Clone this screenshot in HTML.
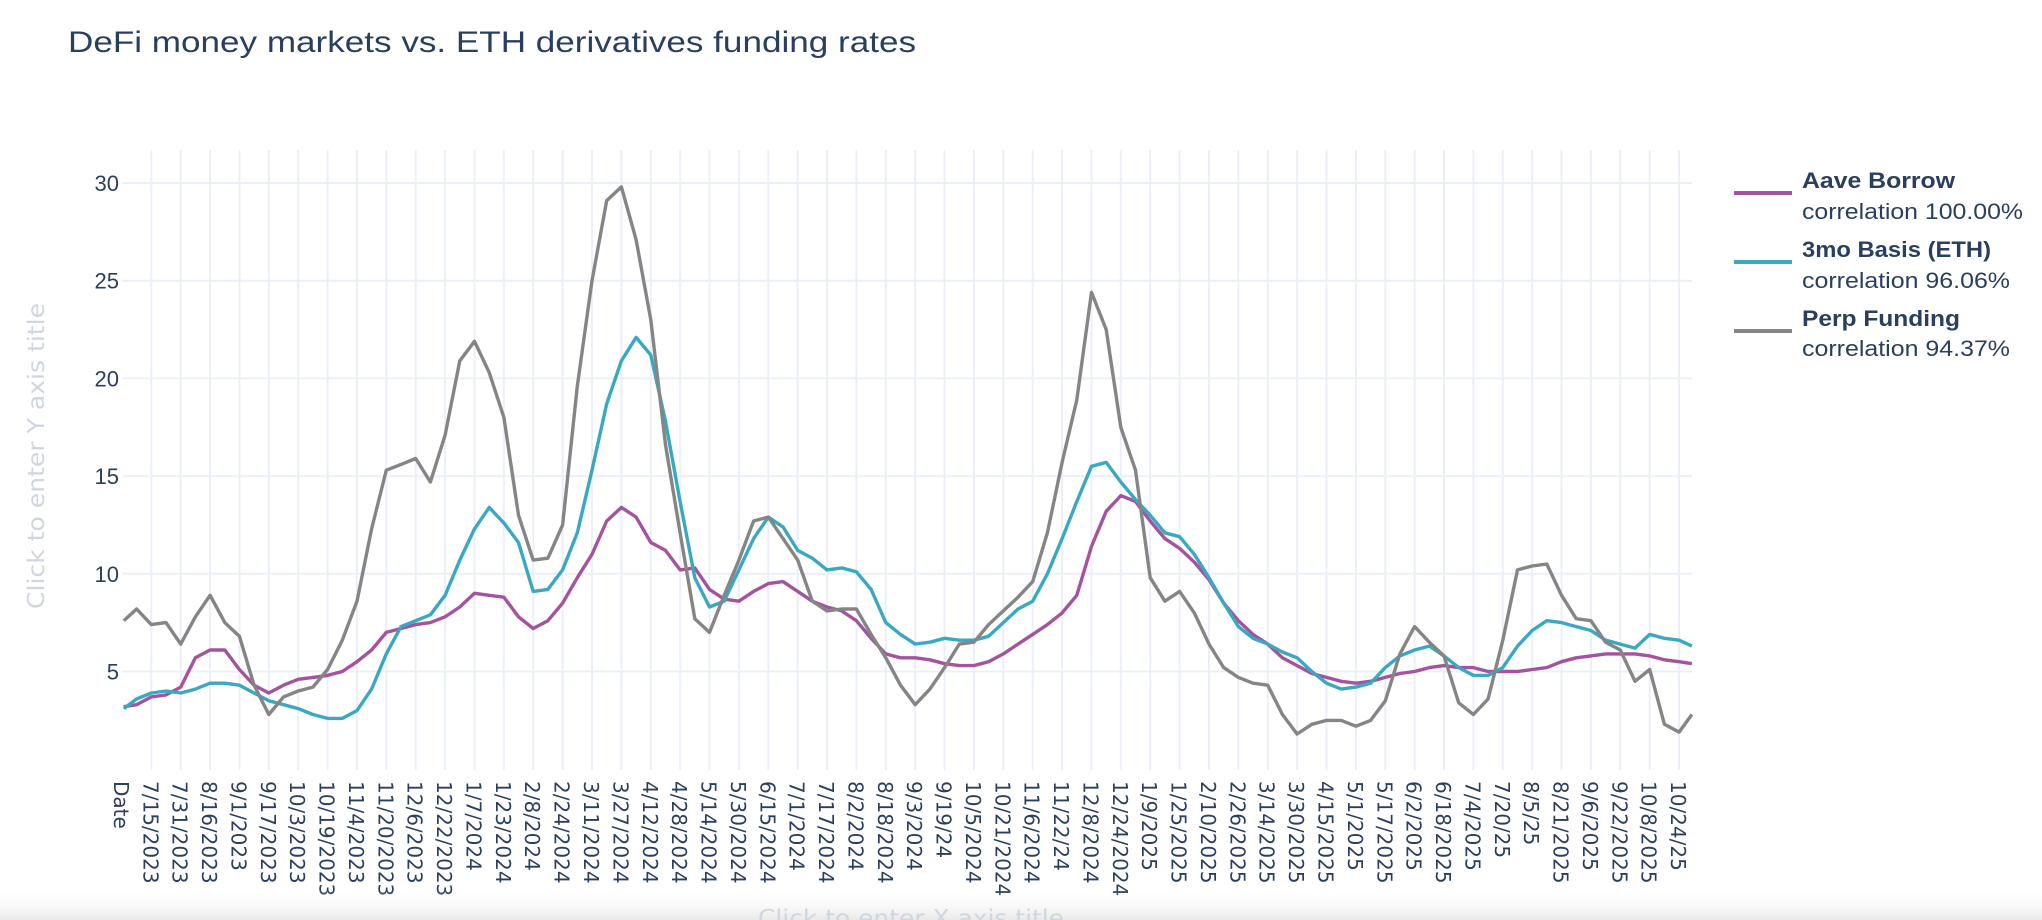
<!DOCTYPE html>
<html><head><meta charset="utf-8"><style>
html,body{margin:0;padding:0;background:#fff;width:2042px;height:920px;overflow:hidden}
svg{display:block}
</style></head><body>
<svg id="chart" width="2042" height="920" viewBox="0 0 2042 920" xmlns="http://www.w3.org/2000/svg">
<defs><linearGradient id="shade" x1="0" y1="0" x2="0" y2="1"><stop offset="0" stop-color="#ffffff" stop-opacity="0"/><stop offset="1" stop-color="#e9e9e9"/></linearGradient></defs>
<text x="68" y="52" font-family="Liberation Sans, sans-serif" font-size="30" fill="#2a3f5f" textLength="848" lengthAdjust="spacingAndGlyphs">DeFi money markets vs. ETH derivatives funding rates</text>
<g id="grid"></g>
<g id="yticks"></g>
<g id="xticks"></g>
<g id="series"></g>
<text transform="translate(44,456) rotate(-90)" text-anchor="middle" font-family="DejaVu Sans, sans-serif" font-size="23" fill="#d0d6df" textLength="306" lengthAdjust="spacingAndGlyphs">Click to enter Y axis title</text>
<rect x="0" y="890" width="2042" height="30" fill="url(#shade)"/>
<text x="911" y="926" text-anchor="middle" font-family="DejaVu Sans, sans-serif" font-size="23" fill="#d0d6df" textLength="306" lengthAdjust="spacingAndGlyphs">Click to enter X axis title</text>
<g font-family="Liberation Sans, sans-serif" font-size="22" fill="#2a3f5f">
 <g>
  <line x1="1734" y1="193" x2="1792" y2="193" stroke="#a4549f" stroke-width="4"/>
  <text x="1802" y="188" font-weight="bold" textLength="153" lengthAdjust="spacingAndGlyphs">Aave Borrow</text>
  <text x="1802" y="219" textLength="221" lengthAdjust="spacingAndGlyphs">correlation 100.00%</text>
 </g>
 <g>
  <line x1="1734" y1="262" x2="1792" y2="262" stroke="#3aa8c1" stroke-width="4"/>
  <text x="1802" y="257" font-weight="bold" textLength="189" lengthAdjust="spacingAndGlyphs">3mo Basis (ETH)</text>
  <text x="1802" y="288" textLength="208" lengthAdjust="spacingAndGlyphs">correlation 96.06%</text>
 </g>
 <g>
  <line x1="1734" y1="331" x2="1792" y2="331" stroke="#858585" stroke-width="4"/>
  <text x="1802" y="326" font-weight="bold" textLength="158" lengthAdjust="spacingAndGlyphs">Perp Funding</text>
  <text x="1802" y="356" textLength="208" lengthAdjust="spacingAndGlyphs">correlation 94.37%</text>
 </g>
</g>
</svg>
<script>
const tickLabels = ["7/15/2023","7/31/2023","8/16/2023","9/1/2023","9/17/2023","10/3/2023","10/19/2023","11/4/2023","11/20/2023","12/6/2023","12/22/2023","1/7/2024","1/23/2024","2/8/2024","2/24/2024","3/11/2024","3/27/2024","4/12/2024","4/28/2024","5/14/2024","5/30/2024","6/15/2024","7/1/2024","7/17/2024","8/2/2024","8/18/2024","9/3/2024","9/19/24","10/5/2024","10/21/2024","11/6/2024","11/22/24","12/8/2024","12/24/2024","1/9/2025","1/25/2025","2/10/2025","2/26/2025","3/14/2025","3/30/2025","4/15/2025","5/1/2025","5/17/2025","6/2/2025","6/18/2025","7/4/2025","7/20/25","8/5/25","8/21/2025","9/6/2025","9/22/2025","10/8/2025","10/24/25"];
const yTicks = [5,10,15,20,25,30];
const firstDate = "2023-06-30";
const regularStart = "2023-07-07";
const lastDate = "2025-10-31";
const aaveBorrow = [3.2,3.3,
3.7,3.8,4.2,5.7,6.1,6.1,5.1,4.3,3.9,4.3,4.6,4.7,4.8,5.0,5.5,6.1,7.0,7.2,7.4,7.5,7.8,8.3,9.0,8.9,8.8,
7.8,7.2,7.6,8.5,9.8,11.0,12.7,13.4,12.9,11.6,11.2,10.2,10.3,9.2,8.7,8.6,9.1,9.5,9.6,9.1,8.6,8.3,8.1,7.6,6.7,5.9,
5.7,5.7,5.6,5.4,5.3,5.3,5.5,5.9,6.4,6.9,7.4,8.0,8.9,11.4,13.2,14.0,13.7,12.7,11.8,11.3,10.6,9.7,8.5,7.6,6.9,6.4,5.7,
5.3,4.9,4.7,4.5,4.4,4.5,4.7,4.9,5.0,5.2,5.3,5.2,5.2,5.0,5.0,5.0,5.1,5.2,5.5,5.7,5.8,5.9,5.9,5.9,5.8,5.6,5.5,
5.4];
const basis3mo = [3.1,3.6,
3.9,4.0,3.9,4.1,4.4,4.4,4.3,3.9,3.5,3.3,3.1,2.8,2.6,2.6,3.0,4.1,5.9,7.3,7.6,7.9,8.9,10.7,12.3,13.4,12.6,
11.6,9.1,9.2,10.2,12.1,15.3,18.7,20.9,22.1,21.2,17.8,13.7,9.8,8.3,8.6,10.2,11.8,12.9,12.4,11.2,10.8,10.2,10.3,10.1,9.2,7.5,
6.9,6.4,6.5,6.7,6.6,6.6,6.8,7.5,8.2,8.6,10.0,11.8,13.7,15.5,15.7,14.7,13.8,13.0,12.1,11.9,11.0,9.8,8.5,7.3,6.7,6.4,6.0,
5.7,5.0,4.4,4.1,4.2,4.4,5.2,5.8,6.1,6.3,5.8,5.2,4.8,4.8,5.2,6.3,7.1,7.6,7.5,7.3,7.1,6.6,6.4,6.2,6.9,6.7,6.6,
6.3];
const perpFunding = [7.6,8.2,
7.4,7.5,6.4,7.8,8.9,7.5,6.8,4.3,2.8,3.7,4.0,4.2,5.1,6.6,8.6,12.3,15.3,15.6,15.9,14.7,17.1,20.9,21.9,20.3,18.0,
13.0,10.7,10.8,12.5,19.6,25.0,29.1,29.8,27.1,23.0,16.6,12.1,7.7,7.0,8.9,10.7,12.7,12.9,11.8,10.7,8.6,8.1,8.2,8.2,6.9,5.7,
4.3,3.3,4.1,5.2,6.4,6.5,7.4,8.1,8.8,9.6,12.1,15.7,18.9,24.4,22.5,17.5,15.3,9.8,8.6,9.1,8.0,6.4,5.2,4.7,4.4,4.3,2.8,
1.8,2.3,2.5,2.5,2.2,2.5,3.5,5.9,7.3,6.5,5.8,3.4,2.8,3.6,6.6,10.2,10.4,10.5,8.9,7.7,7.6,6.5,6.1,4.5,5.1,2.3,1.9,
2.8];

const NS = "http://www.w3.org/2000/svg";
const DAY = 86400000;
const origin = Date.UTC(2023,6,15);
const plot = {left:122, right:1692, top:150, bottom:770};
function dayNum(s){const p=s.split("-");return (Date.UTC(+p[0],+p[1]-1,+p[2])-origin)/DAY;}
function xDay(d){return 151.3 + d/16*29.38;}
function yVal(v){return 671.5 - (v-5)*19.54;}
const sampleDays = [dayNum(firstDate)];
for(let i=0;i<aaveBorrow.length-2;i++) sampleDays.push(dayNum(regularStart)+8*i);
sampleDays.push(dayNum(lastDate));

function mk(tag, attrs, parent){const e=document.createElementNS(NS,tag);for(const k in attrs)e.setAttribute(k,attrs[k]);parent.appendChild(e);return e;}

const grid=document.getElementById('grid');
yTicks.forEach(v=>{
  const l=mk('line',{x1:plot.left,x2:plot.right,y1:yVal(v),y2:yVal(v),stroke:'#ebf0f8','stroke-width':2},grid);
  
  
});
tickLabels.forEach((lab,k)=>{
  const x=xDay(16*k);
  const l=mk('line',{x1:x,x2:x,y1:plot.top,y2:plot.bottom,stroke:'#ebf0f8','stroke-width':2},grid);
  
  
});
const yt=document.getElementById('yticks');
yTicks.forEach(v=>{
  const t=mk('text',{x:119,y:yVal(v)+8,'text-anchor':'end','font-family':'Liberation Sans, sans-serif','font-size':22,fill:'#2a3f5f'},yt);
  t.textContent=String(v);
  
  
});
const xt=document.getElementById('xticks');
function xLabel(txt,x){
  const t=mk('text',{transform:`translate(${x-8},781) rotate(90)`,'font-family':'DejaVu Sans, sans-serif','font-size':20,fill:'#2a3f5f'},xt);
  t.textContent=txt;
  
  
}
xLabel("Date", xDay(-16));
tickLabels.forEach((lab,k)=>xLabel(lab,xDay(16*k)));

const ser=document.getElementById('series');
function drawLine(vals,color,name){
  const d=vals.map((v,i)=>(i?'L':'M')+xDay(sampleDays[i]).toFixed(1)+','+yVal(v).toFixed(1)).join(' ');
  const p=mk('path',{d:d,fill:'none',stroke:color,'stroke-width':3.4,'stroke-linejoin':'round'},ser);
  
  
}
drawLine(aaveBorrow,'#a4549f','aave-borrow-line');
drawLine(basis3mo,'#3aa8c1','basis-3mo-line');
drawLine(perpFunding,'#858585','perp-funding-line');
</script>
</body></html>
